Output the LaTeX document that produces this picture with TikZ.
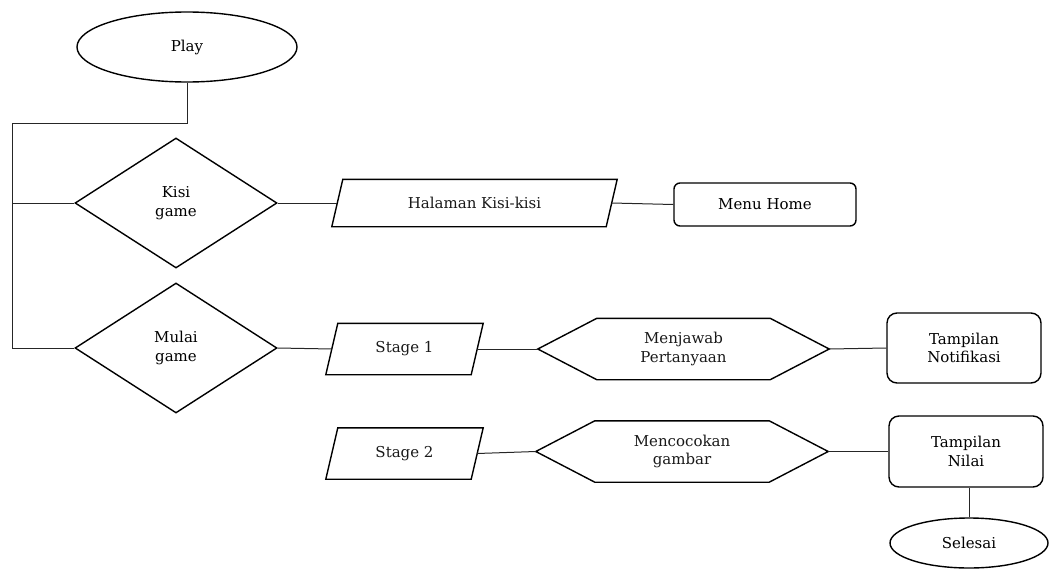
\documentclass[tikz,border=0pt]{standalone}
\usepackage{fontspec}
\setmainfont{DejaVu Serif}
\usetikzlibrary{shapes.geometric}
\newcommand\paraout[2]{\draw[shapeline] ([xshift=#2]#1.north west) -- (#1.north east) -- ([xshift=-#2]#1.south east) -- (#1.south west) -- cycle;}
\newcommand\hexout[2]{\draw[shapeline] (#1.west) -- ([xshift=#2]#1.north west) -- ([xshift=-#2]#1.north east) -- (#1.east) -- ([xshift=-#2]#1.south east) -- ([xshift=#2]#1.south west) -- cycle;}
\tikzset{
  shapeline/.style={line width=1.4pt, black, line join=miter},
  conn/.style={line width=1pt, black!85},
  lbl/.style={font=\fontsize{15}{18.5}\selectfont, align=center, inner sep=0pt, text=black!90},
  term/.style={lbl, ellipse, draw, shapeline},
  decision/.style={lbl, diamond, draw, shapeline},
  io/.style={lbl},
  hexa/.style={lbl},
  rbox/.style={lbl, rectangle, draw, shapeline},
}
\begin{document}
\begin{tikzpicture}[x=1pt,y=-1pt]
\useasboundingbox (0,0) rectangle (1049,570);
% nodes
\node[term, minimum width=220pt, minimum height=70pt] (play) at (187,47) {Play};
\node[decision, minimum width=202pt, minimum height=130pt] (kisi) at (176,203) {Kisi\\game};
\node[decision, minimum width=202pt, minimum height=130pt] (mulai) at (176,348) {Mulai\\game};
\node[io, minimum width=285pt, minimum height=47pt] (hal) at (474.5,203) {Halaman Kisi-kisi};
\paraout{hal}{11pt}
\node[rbox, rounded corners=6pt, minimum width=182pt, minimum height=43pt] (menu) at (765,204.5) {Menu Home};
\node[io, minimum width=157pt, minimum height=51pt] (st1) at (404.5,349) {Stage 1};
\paraout{st1}{12pt}
\node[hexa, minimum width=291pt, minimum height=61pt] (jaw) at (683.5,349) {Menjawab\\Pertanyaan};
\hexout{jaw}{59pt}
\node[rbox, rounded corners=10pt, minimum width=154pt, minimum height=70pt] (notif) at (964,348) {Tampilan\\Notifikasi};
\node[io, minimum width=157pt, minimum height=51pt] (st2) at (404.5,453.5) {Stage 2};
\paraout{st2}{12pt}
\node[hexa, minimum width=292pt, minimum height=61pt] (coc) at (682,451.5) {Mencocokan\\gambar};
\hexout{coc}{59pt}
\node[rbox, rounded corners=10pt, minimum width=154pt, minimum height=71pt] (nilai) at (966,451.5) {Tampilan\\Nilai};
\node[term, minimum width=158pt, minimum height=50pt] (selesai) at (969,543) {Selesai};
% junction coordinates
\coordinate (j1) at (187,123);
\coordinate (j2) at (12,123);
\coordinate (j3) at (12,348);
% connectors
\draw[conn] (play.south) -- (j1) -- (j2) -- (j3) -- (mulai.west);
\draw[conn] (j2 |- kisi.west) -- (kisi.west);
\draw[conn] (kisi.east) -- ([xshift=5.5pt]hal.west);
\draw[conn] ([xshift=-5.5pt]hal.east) -- (menu.west);
\draw[conn] (mulai.east) -- ([xshift=6pt]st1.west);
\draw[conn] ([xshift=-6pt]st1.east) -- (jaw.west);
\draw[conn] (jaw.east) -- (notif.west);
\draw[conn] ([xshift=-6pt]st2.east) -- (coc.west);
\draw[conn] (coc.east) -- (nilai.west);
\draw[conn] (selesai.north) -- (selesai.north |- nilai.south);
\end{tikzpicture}
\end{document}
